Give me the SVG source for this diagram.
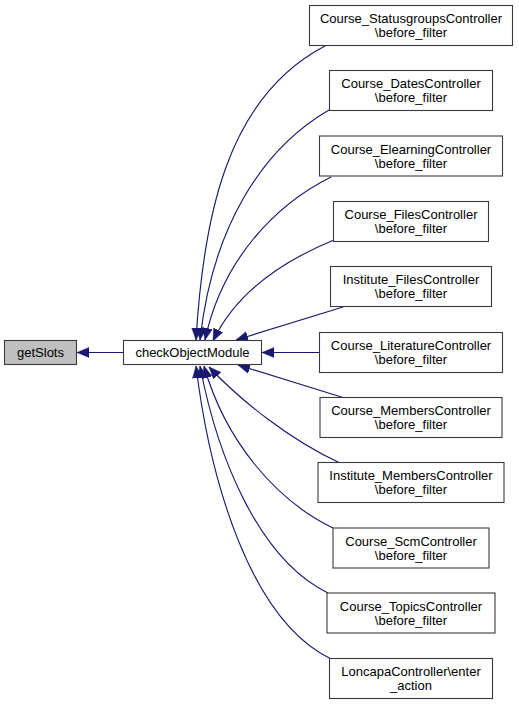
<svg xmlns="http://www.w3.org/2000/svg" width="519" height="705" viewBox="0 0 519 705">
<defs>
<style>
.box{fill:#ffffff;stroke:#3a3a3a;stroke-width:1.1}
.hl{fill:#bfbfbf}
text{font-family:"Liberation Sans",Arial,sans-serif;font-size:13px;fill:#000000;text-anchor:middle}
.edge{fill:none;stroke:#191970;stroke-width:1.15}
</style>
<marker id="arr" markerUnits="userSpaceOnUse" markerWidth="14" markerHeight="12" refX="12" refY="5" orient="auto">
<path d="M0,0 L12,5 L0,10 z" fill="#191970" stroke="#191970" stroke-width="0.5"/>
</marker>
</defs>
<rect width="519" height="705" fill="#ffffff"/>
<g id="edges">
<path class="edge" marker-end="url(#arr)" d="M123,352.5 L77,352.5"/>
<path class="edge" marker-end="url(#arr)" d="M325,46 C 225,98 203,222 196,340"/>
<path class="edge" marker-end="url(#arr)" d="M329,110 C 260,150 212,230 200,340"/>
<path class="edge" marker-end="url(#arr)" d="M331,177 C 275,205 222,260 205,340"/>
<path class="edge" marker-end="url(#arr)" d="M334,240 C 280,262 235,295 213,341"/>
<path class="edge" marker-end="url(#arr)" d="M343,307 L236,340"/>
<path class="edge" marker-end="url(#arr)" d="M319,352.5 L262,352.5"/>
<path class="edge" marker-end="url(#arr)" d="M343,397.5 L238,365"/>
<path class="edge" marker-end="url(#arr)" d="M340,463 C 290,440 240,400 209,367"/>
<path class="edge" marker-end="url(#arr)" d="M333,528 C 275,500 225,440 204,366"/>
<path class="edge" marker-end="url(#arr)" d="M328,593 C 260,560 218,460 200,366"/>
<path class="edge" marker-end="url(#arr)" d="M331,659 C 250,620 210,480 196,366"/>
</g>
<g id="getSlots"><rect class="box hl" x="4.5" y="340.5" width="72" height="24"/><text x="40.5" y="357">getSlots</text></g>
<g id="checkObjectModule"><rect class="box" x="123.5" y="340.5" width="138" height="24"/><text x="192.5" y="357">checkObjectModule</text></g>
<g id="n1"><rect class="box" x="309.5" y="5.5" width="203" height="40"/><text x="411" y="23">Course_StatusgroupsController</text><text x="411" y="37">\before_filter</text></g>
<g id="n2"><rect class="box" x="329.5" y="70.5" width="163" height="40"/><text x="411" y="88">Course_DatesController</text><text x="411" y="102">\before_filter</text></g>
<g id="n3"><rect class="box" x="319.5" y="136" width="183" height="40"/><text x="411" y="153.5">Course_ElearningController</text><text x="411" y="167.5">\before_filter</text></g>
<g id="n4"><rect class="box" x="333.5" y="201.5" width="155" height="40"/><text x="411" y="219">Course_FilesController</text><text x="411" y="233">\before_filter</text></g>
<g id="n5"><rect class="box" x="330.5" y="266.5" width="161" height="40"/><text x="411" y="284">Institute_FilesController</text><text x="411" y="298">\before_filter</text></g>
<g id="n6"><rect class="box" x="319.5" y="332.5" width="183" height="40"/><text x="411" y="350">Course_LiteratureController</text><text x="411" y="364">\before_filter</text></g>
<g id="n7"><rect class="box" x="320" y="397.5" width="182" height="40"/><text x="411" y="415">Course_MembersController</text><text x="411" y="429">\before_filter</text></g>
<g id="n8"><rect class="box" x="318" y="462.5" width="186" height="40"/><text x="411" y="480">Institute_MembersController</text><text x="411" y="494">\before_filter</text></g>
<g id="n9"><rect class="box" x="333" y="528" width="156" height="40"/><text x="411" y="545.5">Course_ScmController</text><text x="411" y="559.5">\before_filter</text></g>
<g id="n10"><rect class="box" x="327" y="593" width="168" height="40"/><text x="411" y="610.5">Course_TopicsController</text><text x="411" y="624.5">\before_filter</text></g>
<g id="n11"><rect class="box" x="329.5" y="658.5" width="163" height="40"/><text x="411" y="676">LoncapaController\enter</text><text x="411" y="690">_action</text></g>
</svg>
